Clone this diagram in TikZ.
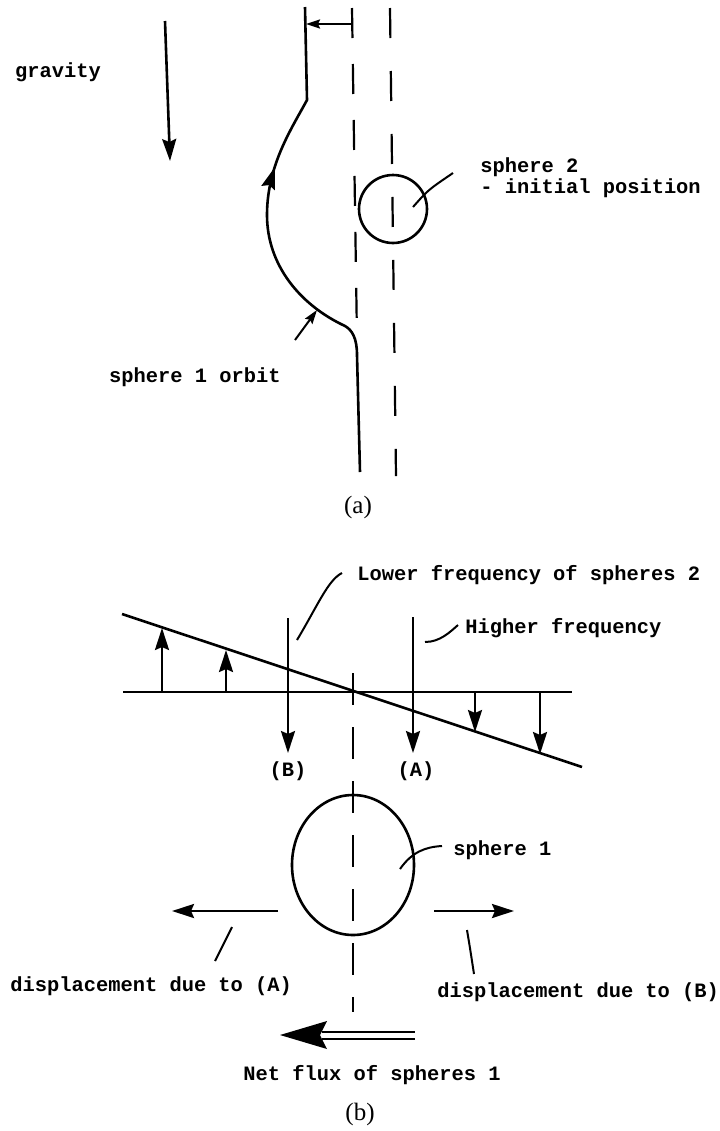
\documentclass[tikz,border=0pt]{standalone}
\usepackage{fontspec}
\setmainfont{Liberation Serif}
\setmonofont{Liberation Mono}
\usepackage{tikz}
\usetikzlibrary{arrows.meta}

\tikzset{
  lbl/.style={font=\ttfamily\bfseries\fontsize{10.2}{10.5}\selectfont,inner sep=0pt},
  captxt/.style={font=\fontsize{12.5}{14}\selectfont,inner sep=0pt},
  thk/.style={line width=1.3pt},
  lead/.style={line width=1pt},
  axisa/.style={line width=1.1pt,dash pattern=on 15pt off 13pt},
  axisb/.style={line width=1.1pt,dash pattern=on 15pt off 16.5pt},
  tip/.style={-{Stealth[length=11pt,width=7pt,inset=1.5pt]}},
  smalltip/.style={-{Stealth[length=7pt,width=4.5pt,inset=1pt]}}
}

\begin{document}
\begin{tikzpicture}[x=0.5pt,y=-0.5pt]
\useasboundingbox (0,0) rectangle (719,1131);
% (a)
\node[lbl](grav)at(58,72){gravity};
\draw[thk,tip](165,21)--(170,161);
\draw[axisa](352,8)--(357,340);
\draw[axisb](390,8)--(396,476);
\coordinate(orbbot)at(360,472);
\coordinate(orbleft)at(267,215);
\coordinate(orbtop)at(305,7);
\draw[thk](orbbot)--(357,355)..controls(357,338)and(352,330)..(345,326)
..controls(300,305)and(267,265)..(orbleft)
..controls(267,165)and(292,128)..(307,100)--(orbtop);
\draw[thk,tip](273.6,171.3)--(275,167);
\draw[lead,smalltip](352,24)--(306,24);
\coordinate(s2)at(393,209);
\draw[thk](s2)circle[radius=34];
\node[lbl,anchor=west,align=left](s2lbl)at(480,178){sphere 2\\- initial position};
\draw[lead](413,207)..controls(428,190)..(453,173);
\node[lbl,anchor=east](orblbl)at(281,377){sphere 1 orbit};
\draw[lead,smalltip](295,340)--(317,310);
\node[captxt](capa)at(358,507){(a)};
% (b)
\coordinate(sl1)at(122,614);
\coordinate(sl2)at(582,767);
\draw[thk](sl1)--(sl2);
\draw[thk](123,692)--(572,692);
\draw[thk,tip](162,692)--(162,628);
\draw[thk,tip](226,692)--(226,650);
\draw[thk,tip](475,692)--(475,732);
\draw[thk,tip](540,692)--(540,754);
\draw[thk,tip](288,618)--(288,753);
\draw[thk,tip](413,617)--(413,753);
\node[lbl](lb)at(288,771){(B)};
\node[lbl](la)at(416,771){(A)};
\node[lbl,anchor=west](low)at(357,575){Lower frequency of spheres 2};
\draw[lead](297,640)..controls(318,605)and(328,580)..(342,573);
\node[lbl,anchor=west](high)at(465,628){Higher frequency};
\draw[lead](425,642)..controls(440,642)and(450,632)..(458,625);
\draw[axisa,dash pattern=on 16pt off 11pt](353,673)--(353,1012);
\coordinate(s1)at(353,865);
\draw[thk](s1)ellipse[x radius=61,y radius=70];
\node[lbl,anchor=west](s1lbl)at(453,850){sphere 1};
\draw[lead](400,869)..controls(412,852)and(425,847)..(442,846);
\draw[thk,tip](278,911)--(172,911);
\draw[thk,tip](434,911)--(514,911);
\draw[lead](232,927)--(215,961);
\draw[lead](467,930)..controls(470,948)..(474,974);
\node[lbl,anchor=west](dispa)at(10,986){displacement due to (A)};
\node[lbl,anchor=west](dispb)at(437,992){displacement due to (B)};
\draw[line width=1pt,double,double distance=2.5pt](415,1035)--(322,1035);
\fill(280,1035)--(327,1021)--(320,1035)--(327,1049)--cycle;
\node[lbl](net)at(372,1075){Net flux of spheres 1};
\node[captxt](capb)at(360,1114){(b)};
\end{tikzpicture}
\end{document}
